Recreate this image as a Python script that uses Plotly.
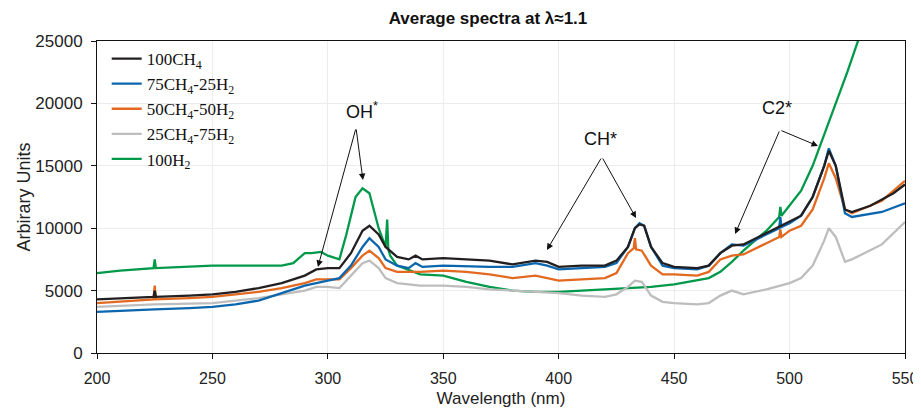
import plotly.graph_objects as go

# wavelength (nm) / intensity
x_ch4 = [200, 210, 224.5, 225, 225.5, 240, 250, 260, 270, 280, 290, 295, 300, 305, 310, 315, 318, 322, 325, 330, 335,
         338, 341, 350, 360, 370, 380, 390, 395, 400, 410, 420, 425, 430, 433, 435, 437, 440, 445, 450, 460, 465, 470,
         475, 480, 490, 500, 505, 510, 515, 517, 520, 524, 527, 535, 545, 550]
y_ch4 = [4300, 4400, 4500, 5000, 4500, 4600, 4700, 4900, 5200, 5600, 6200, 6700, 6800, 6800, 8000, 9800, 10200, 9500,
         8500, 7700, 7500, 7800, 7500, 7600, 7500, 7400, 7100, 7400, 7300, 6900, 7000, 7000, 7400, 8500, 10000, 10300,
         10200, 8500, 7200, 6900, 6800, 7000, 8000, 8600, 8700, 9600, 10500, 11000, 12500, 15000, 16200, 15000, 11500,
         11300, 11800, 12800, 13500]

x_75 = [200, 210, 225, 240, 250, 260, 270, 280, 290, 300, 305, 310, 315, 318, 322, 325, 330, 335, 338, 341, 350, 370,
        380, 390, 395, 400, 410, 420, 425, 430, 433, 435, 437, 440, 445, 450, 460, 465, 470, 475, 480, 490, 495.5,
        496, 496.5, 500, 505, 510, 515, 517, 520, 524, 527, 540, 550]
y_75 = [3300, 3400, 3500, 3600, 3700, 3900, 4200, 4800, 5400, 5800, 6000, 7000, 8500, 9200, 8500, 7500, 7000, 6800,
        7200, 6900, 7000, 6900, 6900, 7200, 7000, 6700, 6800, 6900, 7200, 8500, 10000, 10400, 10200, 8500, 7000, 6800,
        6700, 7000, 8000, 8700, 8600, 9500, 10000, 10900, 10100, 10400, 11000, 12500, 15000, 16400, 15000, 11200, 10900,
        11300, 12000]

x_50 = [200, 210, 224.5, 225, 225.5, 240, 250, 260, 270, 280, 290, 295, 300, 305, 310, 315, 318, 322, 325, 330, 340,
        350, 360, 370, 380, 390, 400, 410, 420, 425, 430, 432.5, 433, 433.5, 436, 440, 445, 450, 460, 465, 470, 475,
        480, 490, 495.5, 496, 496.5, 500, 505, 510, 515, 517, 520, 524, 527, 540, 550]
y_50 = [4000, 4100, 4300, 5400, 4300, 4400, 4500, 4700, 4900, 5200, 5600, 5900, 5900, 5900, 6800, 7800, 8200, 7600,
        6800, 6500, 6500, 6600, 6500, 6300, 6000, 6200, 5800, 5900, 6000, 6400, 8000, 8400, 9200, 8300, 8200, 7000,
        6300, 6300, 6200, 6500, 7500, 7800, 7900, 8800, 9300, 9900, 9300, 9800, 10200, 11500, 14000, 15200, 14000,
        11500, 11200, 12200, 13800]

x_25 = [200, 210, 225, 240, 250, 260, 270, 280, 290, 295, 300, 305, 310, 315, 318, 322, 325, 330, 340, 350, 360, 370,
        380, 390, 400, 410, 420, 425, 430, 433, 436, 440, 445, 450, 460, 465, 470, 475, 480, 490, 500, 505, 510, 515,
        517, 520, 524, 527, 540, 550]
y_25 = [3700, 3800, 3900, 3950, 4000, 4200, 4400, 4700, 5000, 5300, 5300, 5200, 6200, 7200, 7400, 6800, 6000, 5600,
        5400, 5400, 5300, 5100, 5000, 4900, 4800, 4600, 4500, 4700, 5300, 5800, 5700, 4600, 4100, 4000, 3900, 4000,
        4600, 5000, 4700, 5100, 5600, 6000, 7000, 9000, 10000, 9300, 7300, 7500, 8700, 10500]

x_h2 = [200, 210, 224.5, 225, 225.5, 240, 250, 265, 280, 285, 290, 293, 297, 300, 305, 308, 312, 315, 318, 322, 325,
        325.7, 326.2, 327, 330, 340, 350, 360, 370, 380, 390, 400, 420, 440, 450, 460, 465, 470, 475, 480, 490, 495.5,
        496, 496.5, 500, 505, 510, 515, 520, 525, 530, 535]
y_h2 = [6400, 6600, 6800, 7500, 6800, 6900, 7000, 7000, 7000, 7200, 8000, 8000, 8100, 7800, 7500, 9500, 12500, 13200,
        12800, 10000, 8500, 10700, 8300, 7800, 7000, 6300, 6200, 5700, 5300, 5000, 4900, 4900, 5100, 5300, 5500, 5800,
        6000, 6500, 7300, 8200, 9800, 10900, 11700, 11000, 11800, 13000, 15000, 17500, 20000, 22500, 25200, 28000]

series = [
    ("100CH<sub>4</sub>", x_ch4, y_ch4, "#231f20"),
    ("75CH<sub>4</sub>-25H<sub>2</sub>", x_75, y_75, "#0b66ae"),
    ("50CH<sub>4</sub>-50H<sub>2</sub>", x_50, y_50, "#e2691f"),
    ("25CH<sub>4</sub>-75H<sub>2</sub>", x_25, y_25, "#bdbdbd"),
    ("100H<sub>2</sub>", x_h2, y_h2, "#00994a"),
]

fig = go.Figure()
# gray drawn first so darker lines sit on top, legend order kept by reversing
for name, xs, ys, col in reversed(series):
    fig.add_trace(go.Scatter(x=xs, y=ys, mode="lines", name=name,
                             line=dict(color=col, width=2.3)))

# page body has an 8px margin, so the figure is sized/offset to compensate
fig.update_layout(
    width=913, height=400,
    margin=dict(l=89, r=16, t=33, b=55),
    plot_bgcolor="white", paper_bgcolor="white",
    font=dict(family="Liberation Sans, Arial", color="#222"),
    title=dict(text="<b>Average spectra at λ≈1.1</b>", x=0.5257, xanchor="center",
               y=0.975, yref="container", yanchor="middle",
               font=dict(size=17, color="#111")),
    legend=dict(x=0.012, y=1.0, xanchor="left", yanchor="top", traceorder="reversed",
                font=dict(family="Liberation Serif, DejaVu Serif", size=17, color="#111"),
                itemwidth=30, tracegroupgap=0, bgcolor="rgba(0,0,0,0)"),
    showlegend=True,
)
fig.update_xaxes(range=[200, 550], dtick=50, showgrid=True, gridcolor="#ececec", automargin=False,
                 showline=True, linecolor="#111", linewidth=1, mirror=True,
                 ticks="outside", ticklen=5, tickcolor="#111", tickfont=dict(size=16), ticklabelstandoff=6,
                 title=dict(text="Wavelength (nm)", font=dict(size=17), standoff=8), zeroline=False)
fig.update_yaxes(range=[0, 25000], dtick=5000, tickformat="d", showgrid=True, gridcolor="#ececec",
                 automargin=False, showline=True, linecolor="#111", linewidth=1, mirror=True,
                 ticks="outside", ticklen=5, tickcolor="#111", tickfont=dict(size=17), ticklabelstandoff=5,
                 title=dict(text="Arbirary Units", font=dict(size=18), standoff=0), zeroline=False)

# peak labels with arrows
labels = [("OH<sup>*</sup>", 314.8, 19400), ("CH*", 417.9, 17150), ("C2*", 494.5, 19650)]
for txt, lx, ly in labels:
    fig.add_annotation(x=lx, y=ly, text=txt, showarrow=False, font=dict(size=18, color="#111"))

arrows = [(312.2, 18030, 295.7, 6900), (312.2, 18030, 315.2, 13862),
          (418.7, 15705, 394.9, 8253), (418.7, 15705, 433.5, 10817),
          (495.8, 17870, 476.4, 9535), (495.8, 17870, 512.3, 16590)]
for ax0, ay0, tx, ty in arrows:
    fig.add_annotation(x=tx, y=ty, ax=ax0, ay=ay0, xref="x", yref="y", axref="x", ayref="y",
                       text="", showarrow=True, arrowhead=2, arrowsize=1.3, arrowwidth=1,
                       arrowcolor="#111")

fig.write_html("out.html")
